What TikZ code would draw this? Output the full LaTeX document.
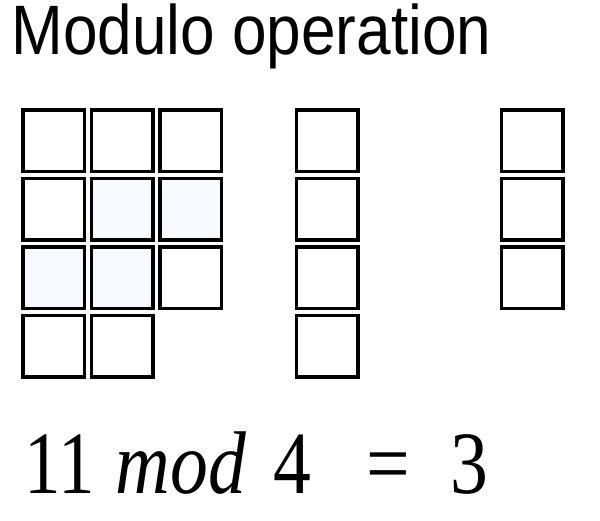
\documentclass[tikz,border=0pt]{standalone}
\usepackage{fontspec}
\setmainfont{Liberation Serif}
\newfontfamily\titlefont{Liberation Sans}
\definecolor{faint}{RGB}{246,249,253}
\begin{document}
\begin{tikzpicture}[x=1pt,y=-1pt,
  cell/.style={draw=black,line width=3.5pt,minimum width=61.5pt,minimum height=61.5pt,inner sep=0pt,fill=white},
  shaded/.style={cell,fill=faint},
  eq/.style={anchor=base,inner sep=0pt,font=\fontsize{89}{89}\selectfont}]
\useasboundingbox (0,0) rectangle (600,520);
\node[anchor=base,inner sep=0pt] (title) at (251.5,54) {\scalebox{0.887}[1]{\titlefont\fontsize{70}{70}\selectfont Modulo operation}};
% left block 11 cells
\node[cell] (a11) at (53.5,140.5) {};
\node[cell] (a12) at (122,140.5) {};
\node[cell] (a13) at (190.5,140.5) {};
\node[cell] (a21) at (53.5,209) {};
\node[shaded] (a22) at (122,209) {};
\node[shaded] (a23) at (190.5,209) {};
\node[shaded] (a31) at (53.5,277.5) {};
\node[shaded] (a32) at (122,277.5) {};
\node[cell] (a33) at (190.5,277.5) {};
\node[cell] (a41) at (53.5,346) {};
\node[cell] (a42) at (122,346) {};
% divisor 4
\node[cell] (b1) at (327,140.5) {};
\node[cell] (b2) at (327,209) {};
\node[cell] (b3) at (327,277.5) {};
\node[cell] (b4) at (327,346) {};
% remainder 3
\node[cell] (c1) at (532,140.5) {};
\node[cell] (c2) at (532,209) {};
\node[cell] (c3) at (532,277.5) {};
% equation
\node[eq] (n11) at (60,493) {\scalebox{0.82}[1]{11}};
\node[eq] (nmod) at (181,493) {\scalebox{0.85}[1]{\itshape mod}};
\node[eq] (n4) at (292.5,493) {\scalebox{0.85}[1]{4}};
\node[eq] (neq) at (388,493) {\scalebox{0.87}[1]{=}};
\node[eq] (n3) at (469,493) {\scalebox{0.85}[1]{3}};
\end{tikzpicture}
\end{document}
